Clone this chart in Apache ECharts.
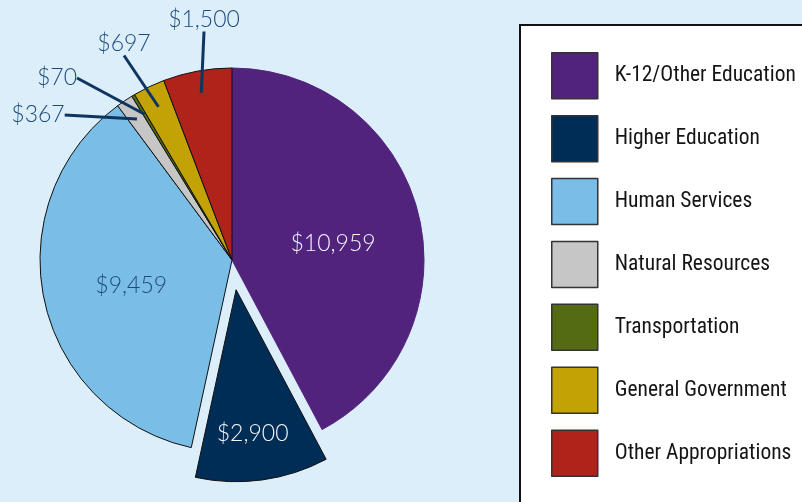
<!DOCTYPE html>
<html>
<head>
<meta charset="utf-8">
<script src="https://cdn.jsdelivr.net/npm/echarts@6/dist/echarts.min.js"></script>
<style>
html,body{margin:0;padding:0;background:#dbeef9;}
#chart{width:802px;height:502px;}
</style>
</head>
<body>
<div id="chart"></div>
<script>
const categories = ["K-12/Other Education","Higher Education","Human Services","Natural Resources","Transportation","General Government","Other Appropriations"];
const values = [10959, 2900, 9459, 367, 70, 697, 1500];
const labels = ["$10,959","$2,900","$9,459","$367","$70","$697","$1,500"];
const colors = ["#52237d","#002d55","#7abde6","#c6c6c6","#546b13","#c2a204","#b0231a"];

// label placement (layout, not data)
const outerLabelPos = {3:[38,115],4:[57,78],5:[124,44],6:[204,20]};
const outerIdx = [3,4,5,6];
const innerIdx = [0,1,2];

const chart = echarts.init(document.getElementById('chart'), null, {renderer:'canvas'});

const mainData = categories.map((c,i)=>({
  name:c, value:values[i], selected: i===1,
  itemStyle:{color:colors[i], borderColor: i===0 ? colors[0] : '#111', borderWidth: 1},
  label:{
    show: innerIdx.includes(i),
    color: i===2 ? '#1d4a7a' : '#f4f6fa'
  }
}));
const ghostData = categories.map((c,i)=>({
  name:c, value:values[i],
  itemStyle:{color:'rgba(0,0,0,0)', borderWidth:0},
  label:{show: outerIdx.includes(i)},
  labelLine:{show: outerIdx.includes(i)}
}));

chart.setOption({
  backgroundColor:'#dbeef9',
  animation:false,
  graphic:[{
    type:'rect', z:0, silent:true,
    shape:{x:520,y:25,width:300,height:500},
    style:{fill:'#ffffff',stroke:'#111111',lineWidth:2}
  }],
  legend:{
    orient:'vertical', left:551, top:52, z:5, padding:0,
    itemWidth:46, itemHeight:46, itemGap:15.4,
    icon:'rect',
    selectedMode:false,
    data:categories,
    itemStyle:{borderColor:'#333',borderWidth:1.5},
    textStyle:{fontFamily:'"Roboto Condensed","DejaVu Sans Condensed",sans-serif',fontSize:21.5,color:'#151515',padding:[0,0,0,12]}
  },
  series:[{
    type:'pie',
    center:[232,260],
    radius:[0,192],
    startAngle:90,
    clockwise:true,
    selectedMode:'single',
    selectedOffset:30,
    silent:true,
    data:mainData,
    label:{
      position:'inside',
      formatter:(p)=>labels[p.dataIndex],
      fontFamily:'Lato, "Open Sans", sans-serif',
      fontWeight:300,
      fontSize:23
    },
    labelLine:{show:false},
    labelLayout:function(p){
      if(p.dataIndex===1) return {dx:3, dy:46};
      if(p.dataIndex===0) return {dx:5, dy:8};
      if(p.dataIndex===2) return {dx:-4, dy:5};
      return {};
    }
  },{
    type:'pie',
    center:[232,260],
    radius:[0,170],
    startAngle:90,
    clockwise:true,
    silent:true,
    z:3,
    data:ghostData,
    label:{
      position:'outside',
      formatter:(p)=>labels[p.dataIndex],
      fontFamily:'Lato, "Open Sans", sans-serif',
      fontWeight:300,
      fontSize:23,
      color:'#1d4a7a'
    },
    labelLine:{length:20,length2:0,lineStyle:{color:'#0d3560',width:3}},
    labelLayout:function(p){
      const pos = outerLabelPos[p.dataIndex];
      if(!pos) return {};
      return {x:pos[0], y:pos[1], align:'center', verticalAlign:'middle'};
    }
  }]
});
</script>
</body>
</html>
